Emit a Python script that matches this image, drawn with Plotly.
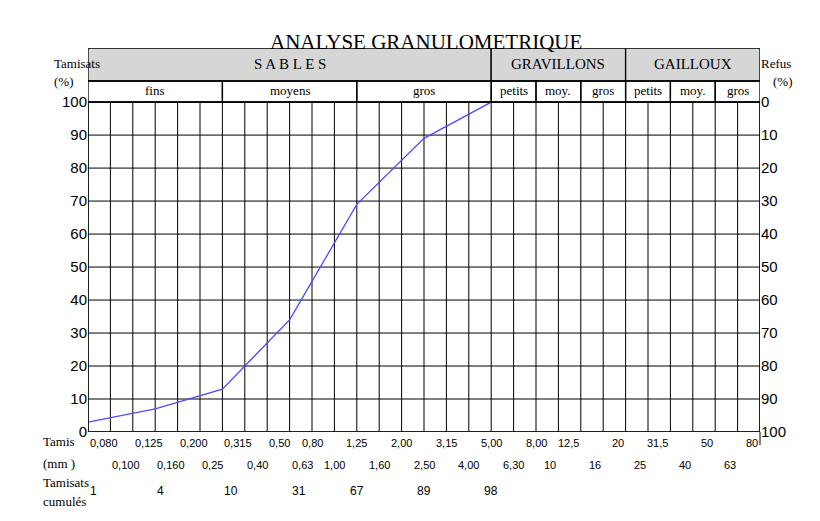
import plotly.graph_objects as go

sieves = ["0,080","0,100","0,125","0,160","0,200","0,25","0,315","0,40","0,50","0,63","0,80","1,00","1,25","1,60","2,00","2,50","3,15","4,00","5,00","6,30","8,00","10","12,5","16","20","25","31,5","40","50","63","80"]
curve_idx = [0, 3, 6, 9, 12, 15, 18]
curve_pct = [3, 7, 13, 34, 69, 89, 100]
cumul_idx = [0, 3, 6, 9, 12, 15, 18]
cumul_txt = ["1", "4", "10", "31", "67", "89", "98"]
groups = [("S A B L E S", 0, 18), ("GRAVILLONS", 18, 24), ("GAILLOUX", 24, 30)]
subgroups = [("fins",0,6),("moyens",6,12),("gros",12,18),("petits",18,20),("moy.",20,22),("gros",22,24),("petits",24,26),("moy.",26,28),("gros",28,30)]
yt = list(range(0, 101, 10))

SERIF = "Liberation Serif"
SANS = "Liberation Sans"
YTOP = 116.4; R1 = 106.4
L, R, T, B = 80, 752, 40, 424

def px(x): return (x - L) / (R - L)
def py(y): return (B - y) / (B - T)

fig = go.Figure()
fig.add_trace(go.Scatter(x=curve_idx, y=curve_pct, mode="lines", line=dict(color="#4b4bff", width=1.3), showlegend=False))
fig.add_trace(go.Scatter(x=[0], y=[0], mode="markers", marker=dict(opacity=0), yaxis="y2", showlegend=False, hoverinfo="skip"))

shapes = []
lc = dict(color="black", width=1)
for i in range(31):
    shapes.append(dict(type="line", x0=i, x1=i, y0=0, y1=100, line=lc, layer="below"))
for v in yt:
    shapes.append(dict(type="line", x0=0, x1=30, y0=v, y1=v, line=lc, layer="below"))
for name, a, b in groups:
    shapes.append(dict(type="rect", x0=a, x1=b, y0=R1, y1=YTOP, fillcolor="#d6d6d6", line=dict(color="black", width=1.3), layer="below"))
for name, a, b in subgroups:
    shapes.append(dict(type="rect", x0=a, x1=b, y0=100, y1=R1, line=dict(color="black", width=1.3), layer="below"))
shapes.append(dict(type="rect", x0=0, x1=30, y0=0, y1=100, line=dict(color="black", width=1.5)))
shapes.append(dict(type="line", xref="paper", yref="paper", x0=1, x1=1, y0=0, y1=py(437), line=lc))

ann = []
for name, a, b in groups:
    ann.append(dict(x=(a+b)/2, y=(R1+YTOP)/2, text=name, showarrow=False, font=dict(family=SERIF, size=15, color="black")))
for name, a, b in subgroups:
    ann.append(dict(x=(a+b)/2, y=(100+R1)/2+0.4, text=name, showarrow=False, font=dict(family=SERIF, size=13, color="black")))
for i, s in enumerate(sieves):
    ann.append(dict(x=i/30, y=py(443 if i % 2 == 0 else 465), xref="paper", yref="paper", text=s, showarrow=False,
                    font=dict(family=SANS, size=11, color="black")))
for i, t in zip(cumul_idx, cumul_txt):
    ann.append(dict(x=i/30, y=py(492), xref="paper", yref="paper", text=t, showarrow=False, font=dict(family=SANS, size=12, color="black")))
for txt, xp, yp in [("Tamis", 33, 443), ("(mm )", 33, 465), ("Tamisats", 33, 484), ("cumulés", 33, 503),
                     ("Tamisats", 44, 46), ("(%)", 44, 64), ("Refus", 785, 46), ("(%)", 787, 64)]:
    ann.append(dict(x=px(xp), y=py(yp), xref="paper", yref="paper", text=txt, showarrow=False, font=dict(family=SERIF, size=13, color="black")))
ann.append(dict(x=px(418), y=py(20), xref="paper", yref="paper", text="ANALYSE GRANULOMETRIQUE", showarrow=False, font=dict(family=SERIF, size=21, color="black")))

fig.update_layout(
    width=820, height=521, margin=dict(l=L, r=820-R, t=T, b=521-B, autoexpand=False),
    plot_bgcolor="white", paper_bgcolor="white",
    xaxis=dict(range=[0, 30], showgrid=False, zeroline=False, showticklabels=False, ticks=""),
    yaxis=dict(range=[0, YTOP], tickvals=yt, ticktext=[str(v) for v in yt], showgrid=False, zeroline=False,
               tickfont=dict(family=SANS, size=15, color="black"), ticks=""),
    yaxis2=dict(range=[0, YTOP], overlaying="y", side="right", tickvals=yt, ticktext=[str(100-v) for v in yt],
                showgrid=False, zeroline=False, tickfont=dict(family=SANS, size=15, color="black"), ticks=""),
    shapes=shapes, annotations=ann,
)
fig.write_html("out.html")
